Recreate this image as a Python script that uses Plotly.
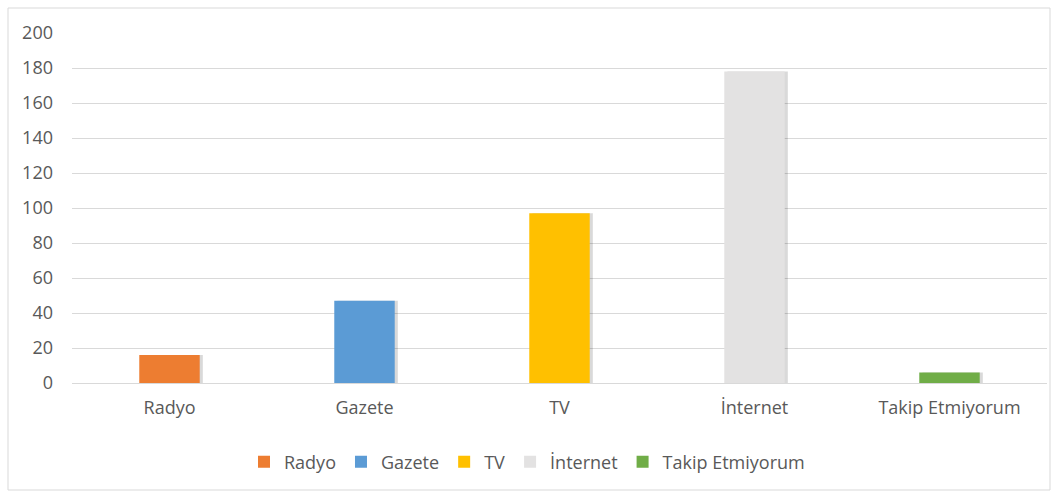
import plotly.graph_objects as go

categories = ["Radyo", "Gazete", "TV", "İnternet", "Takip Etmiyorum"]
values = [16, 47, 97, 178, 6]
colors = ["#ED7D31", "#5B9BD5", "#FFC000", "#E3E2E2", "#70AD47"]
y_ticks = list(range(0, 201, 20))

W, H = 1062, 494
BW = 0.31
FONT = "Open Sans"
FS = 18
GREY = "#595959"

fig = go.Figure()

# soft drop shadows
for cat, val in zip(categories, values):
    fig.add_trace(go.Bar(
        x=[cat], y=[val], width=BW, offset=-BW / 2 + 0.016,
        marker=dict(color="rgba(0,0,0,0.15)", line=dict(width=0)),
        showlegend=False, hoverinfo="skip",
    ))

for cat, val, col in zip(categories, values, colors):
    fig.add_trace(go.Bar(
        x=[cat], y=[val], name=cat, width=BW, offset=-BW / 2,
        marker=dict(color=col, line=dict(width=0)),
    ))

fig.update_layout(
    width=W, height=H,
    margin=dict(l=0, r=0, t=0, b=0),
    paper_bgcolor="white", plot_bgcolor="white",
    barmode="overlay",
    font=dict(family=FONT, size=FS, color=GREY),
    xaxis=dict(
        domain=[72 / W, 1047 / W],
        categoryorder="array", categoryarray=categories,
        showgrid=False, showline=False, zeroline=False,
        ticks="", ticklabelstandoff=12, automargin=False,
        tickfont=dict(family=FONT, size=FS, color=GREY),
    ),
    yaxis=dict(
        domain=[1 - 383 / H, 1 - 33 / H],
        range=[0, 200], tickvals=y_ticks,
        showgrid=True, gridcolor="#D9D9D9", gridwidth=1,
        zeroline=True, zerolinecolor="#D9D9D9", zerolinewidth=1,
        showline=False, ticks="", ticklabelstandoff=18, automargin=False,
        tickfont=dict(family=FONT, size=FS, color=GREY),
    ),
    legend=dict(
        orientation="h", x=244 / W, xanchor="left",
        y=1 - 462 / H, yanchor="middle",
        font=dict(family=FONT, size=FS, color=GREY),
        itemwidth=30, traceorder="normal",
        bgcolor="rgba(0,0,0,0)",
    ),
    shapes=[dict(
        type="rect", xref="paper", yref="paper",
        x0=8 / W, x1=1050 / W, y0=1 - 490 / H, y1=1 - 8 / H,
        line=dict(color="#D9D9D9", width=1), fillcolor="rgba(0,0,0,0)",
        layer="below",
    )],
)

fig.write_html("out.html")
